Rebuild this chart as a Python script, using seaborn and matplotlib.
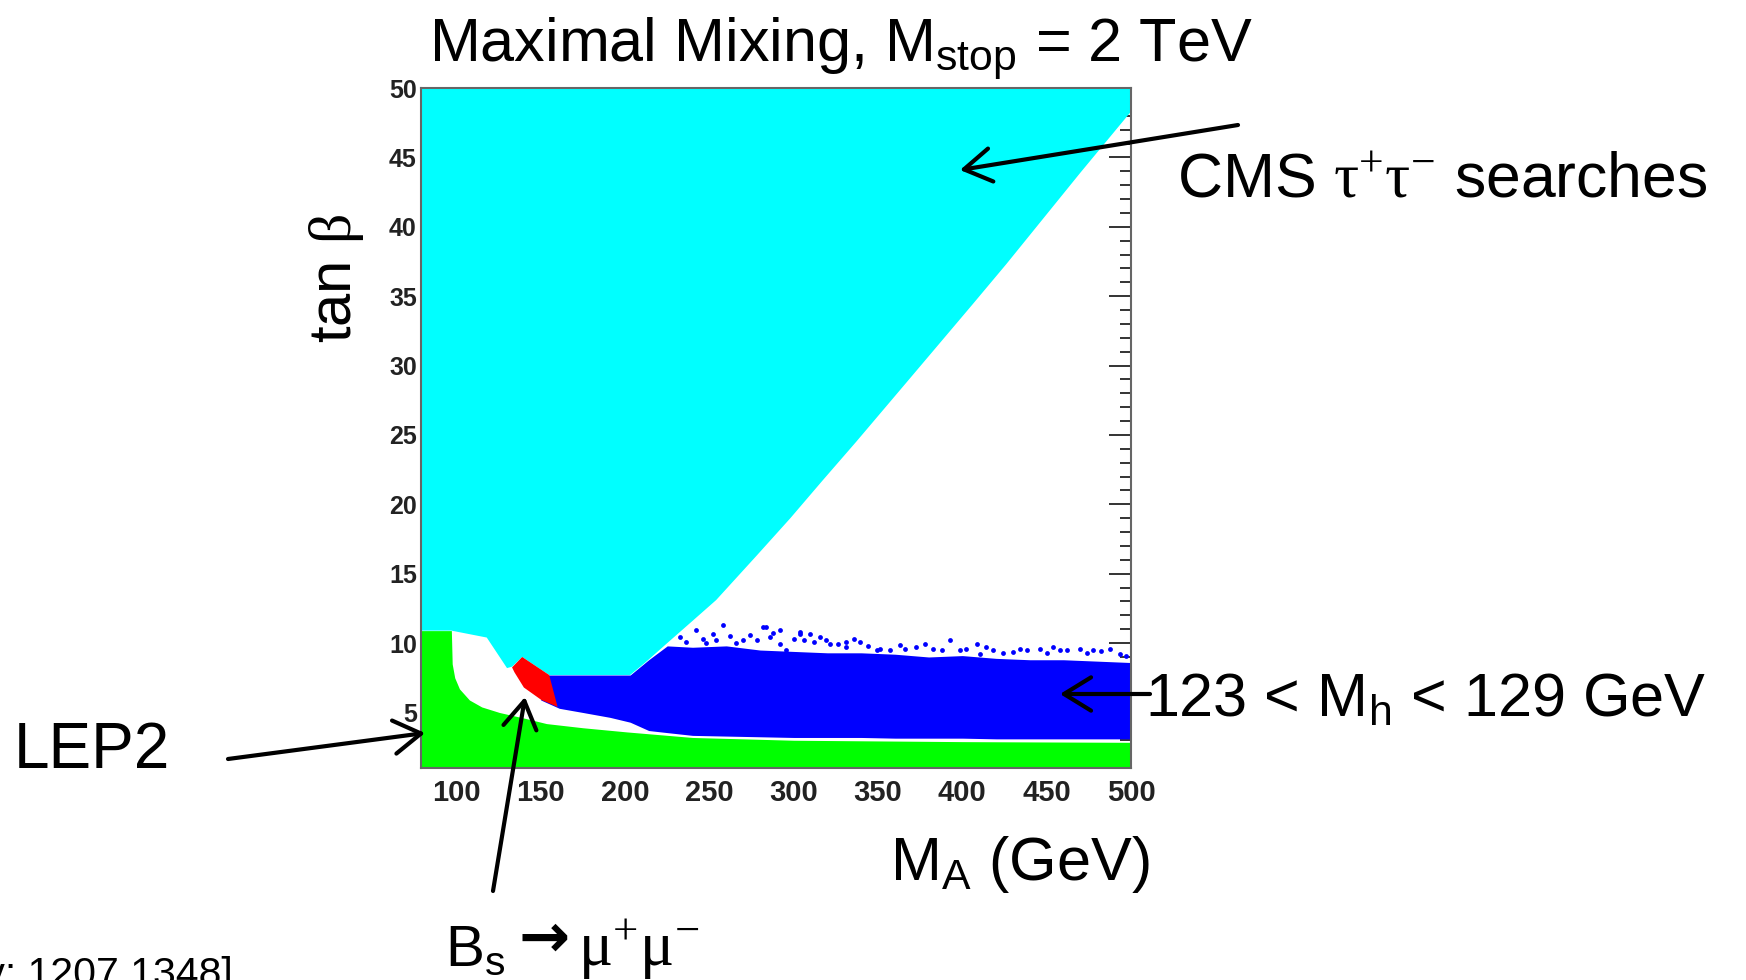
import matplotlib
matplotlib.use("Agg")
import matplotlib.pyplot as plt
from matplotlib.ticker import MultipleLocator
import pandas as pd
import seaborn as sns

# region edges (M_A in GeV, tan beta)
cyan_edge_x = [500, 470, 426, 406, 367, 337, 317, 298, 278, 254, 240, 225, 212, 203,
               155, 139, 133, 130, 118, 97, 79]
cyan_edge_y = [48.3, 43.9, 37.3, 34.4, 28.8, 24.5, 21.7, 19.0, 16.3, 13.1, 11.6, 10.0, 8.6, 7.7,
               7.7, 9.0, 8.3, 8.2, 10.4, 10.9, 10.9]

green_x = [79, 97, 97.5, 99, 101.8, 107.7, 115, 125.5, 140, 153.4, 175, 201, 240, 300, 400, 500]
green_top = [10.9, 10.9, 8.5, 7.5, 6.7, 5.9, 5.4, 5.0, 4.6, 4.2, 3.9, 3.6, 3.2, 3.0, 2.9, 2.85]

blue_x = [150, 161, 175, 191, 203, 214, 225, 240, 260, 280, 300, 320, 340, 360, 380, 400, 420, 440, 460, 480, 500]
blue_lo = [5.9, 5.3, 5.0, 4.65, 4.3, 3.7, 3.55, 3.35, 3.3, 3.25, 3.2, 3.2, 3.2, 3.15, 3.15, 3.15, 3.1, 3.1, 3.1, 3.1, 3.1]
blue_hi = [7.7, 7.7, 7.7, 7.7, 7.7, 8.8, 9.8, 9.7, 9.8, 9.5, 9.4, 9.3, 9.3, 9.2, 9.0, 9.1, 8.9, 8.8, 8.8, 8.7, 8.6]

# stray points above the dense blue band
stray_x = [232.3, 242.2, 252.1, 258.1, 254.1, 269.9, 281.8, 285.8, 291.7, 295.7, 303.6, 309.5, 315.4, 321.4,
           331.3, 339.2, 349.1, 357.0, 283.8, 291.7, 303.6, 319.4, 331.3, 351.0, 362.9, 372.8, 382.7, 392.6,
           398.5, 408.4, 410.4, 418.3, 430.1, 438.1, 446.0, 453.9, 461.8, 469.7, 477.6, 487.5, 493.5,
           236.0, 246.0, 262.0, 266.0, 274.0, 278.0, 300.0, 312.0, 326.0, 344.0, 366.0, 378.0, 388.0,
           402.0, 414.0, 424.0, 434.0, 450.0, 458.0, 474.0, 482.0, 497.0, 248.0, 288.0, 306.0, 336.0]
stray_y = [10.44, 10.92, 10.68, 11.28, 10.2, 10.2, 11.16, 10.44, 9.96, 9.48, 10.68, 10.68, 10.44, 9.96,
           9.72, 10.08, 9.48, 9.48, 11.16, 10.92, 10.8, 10.2, 10.08, 9.6, 9.84, 9.72, 9.6, 10.2,
           9.48, 9.96, 9.24, 9.48, 9.36, 9.48, 9.6, 9.72, 9.48, 9.6, 9.48, 9.6, 9.24,
           10.1, 10.3, 10.5, 10.0, 10.6, 10.2, 10.3, 10.1, 9.9, 9.8, 9.6, 9.9, 9.5,
           9.6, 9.7, 9.3, 9.6, 9.3, 9.5, 9.3, 9.4, 9.1, 10.0, 10.7, 10.2, 10.3]

red_x = [133, 139, 155, 160, 150.4, 140, 134.4]
red_y = [8.25, 9.0, 7.7, 5.4, 5.9, 6.8, 7.9]

W, H = 1746, 980
SANS = ['Liberation Sans', 'DejaVu Sans']

sns.set_style("ticks")
plt.rcParams['font.family'] = SANS
plt.rcParams['text.color'] = 'black'
plt.rcParams['mathtext.fontset'] = 'custom'
plt.rcParams['mathtext.rm'] = 'Liberation Sans'
plt.rcParams['mathtext.it'] = 'Liberation Sans:italic'
plt.rcParams['mathtext.bf'] = 'Liberation Sans:bold'
plt.rcParams['mathtext.sf'] = 'Liberation Serif'


def fp(x, y):
    # image pixel (top-left origin) -> figure fraction
    return x / W, 1 - y / H


fig = plt.figure(figsize=(W / 100, H / 100), dpi=100)
ax = fig.add_axes([421 / W, 1 - 768 / H, 710 / W, 680 / H])

ax.fill_between(green_x, 1, green_top, color='#00ff00', lw=0)
ax.fill_between(blue_x, blue_lo, blue_hi, color='#0000ff', lw=0)
sns.scatterplot(data=pd.DataFrame({'x': stray_x, 'y': stray_y}), x='x', y='y', ax=ax,
                color='#0000ff', s=12, marker='o', linewidth=0)
ax.fill([79, 500] + cyan_edge_x, [50, 50] + cyan_edge_y, color='#00ffff', lw=0)
ax.fill(red_x, red_y, color='#ff0000', lw=0)

ax.set_xlim(79, 500)
ax.set_ylim(1, 50)
ax.xaxis.set_major_locator(MultipleLocator(50))
ax.xaxis.set_minor_locator(MultipleLocator(10))
ax.yaxis.set_major_locator(MultipleLocator(5))
ax.yaxis.set_minor_locator(MultipleLocator(1))
ax.set_xlabel('')
ax.set_ylabel('')
ax.tick_params(which='both', direction='in', top=True, right=True, color='#333333', width=1.4)
ax.tick_params(axis='x', which='major', length=13, labelsize=21, pad=8)
ax.tick_params(axis='x', which='minor', length=8)
ax.tick_params(axis='y', which='major', length=16, labelsize=18, pad=3)
ax.tick_params(axis='y', which='minor', length=8)
for lab in ax.get_xticklabels() + ax.get_yticklabels():
    lab.set_fontweight('bold')
    lab.set_color('#222222')
for sp in ax.spines.values():
    sp.set_color('#666666')
    sp.set_linewidth(1.5)

# texts
fig.text(*fp(841, 61), r'Maximal Mixing, $\mathregular{M_{stop}}$ = 2 TeV',
         fontsize=44, ha='center', va='baseline')
fig.text(*fp(1177, 198), r'CMS $\mathsf{\tau^{+}\tau^{-}}$ searches',
         fontsize=45, ha='left', va='baseline')
fig.text(*fp(1145, 716), r'123 < $\mathregular{M_h}$ < 129 GeV',
         fontsize=44, ha='left', va='baseline')
fig.text(*fp(14, 768), 'LEP2', fontsize=46, ha='left', va='baseline')
fig.text(*fp(1150, 880), r'$\mathregular{M_A}$ (GeV)', fontsize=44, ha='right', va='baseline')
fig.text(*fp(337, 278), r'tan $\mathsf{\beta}$', fontsize=43, rotation=90, ha='center', va='center')
fig.text(*fp(445, 966), r'$\mathregular{B_s}$', fontsize=42, ha='left', va='baseline')
fig.text(*fp(519, 957), '\u2192', family=['DejaVu Sans'], fontweight='bold', fontsize=44,
         ha='left', va='baseline')
fig.text(*fp(578, 966), r'$\mathsf{\mu^{+}\mu^{-}}$', fontsize=46, ha='left', va='baseline')
fig.text(*fp(233, 986), '[arXiv: 1207.1348]', fontsize=29.5, ha='right', va='baseline')

# arrows
arrows = [((1238, 125), (960, 170)), ((1150, 694), (1060, 694)),
          ((228, 759), (425, 733)), ((493, 891), (525, 697))]
for tail, head in arrows:
    fig.add_artist(matplotlib.patches.FancyArrowPatch(
        fp(*tail), fp(*head), transform=fig.transFigure, arrowstyle='->,head_length=0.65,head_width=0.4',
        mutation_scale=30, lw=3, color='black', shrinkA=0, shrinkB=0))

fig.savefig('out.png', dpi=100)
